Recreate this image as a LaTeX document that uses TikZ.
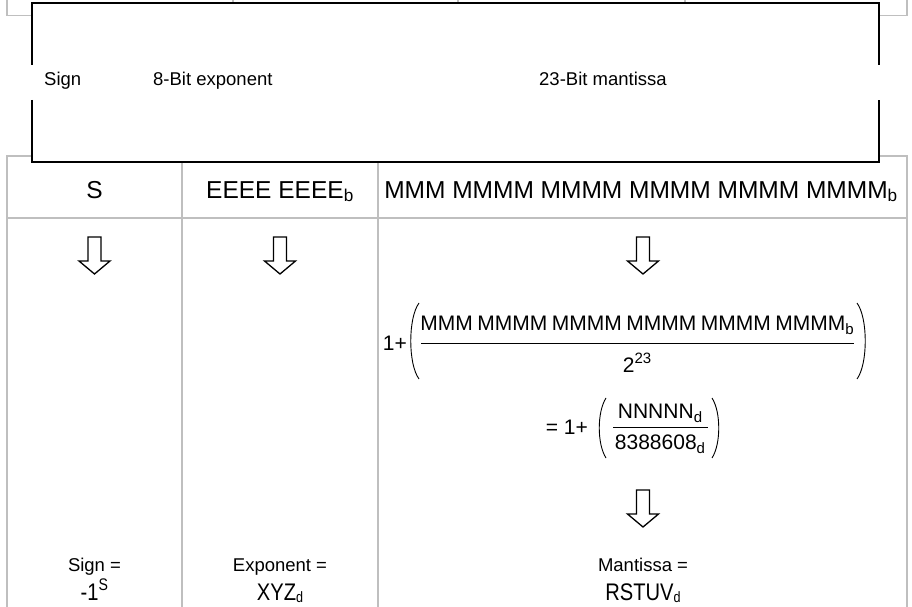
\documentclass[tikz,border=0pt]{standalone}
\usepackage{fontspec}
\setmainfont{Liberation Sans}
\definecolor{gridgray}{HTML}{BFBFBF}
\newcommand\tightspaces{\spaceskip=4.5pt\relax}
\newcommand\fsub[1]{\raisebox{-0.22em}{\fontsize{15}{15}\selectfont #1}}
\newcommand\fsup[1]{\raisebox{0.42em}{\fontsize{15}{15}\selectfont #1}}
\newcommand\vsub[1]{\raisebox{-0.12em}{\fontsize{15}{15}\selectfont #1}}
\tikzset{
  grid/.style={draw=gridgray, line width=1.6pt},
  frame/.style={draw=black, line width=2pt},
  fieldlabel/.style={font=\fontsize{18.5}{20}\selectfont, anchor=base west, inner sep=0pt},
  headtext/.style={font=\fontsize{24.5}{26}\selectfont, anchor=base, inner sep=0pt},
  fracpart/.style={font=\fontsize{21}{23}\selectfont, anchor=base, inner sep=0pt},
  smalltext/.style={font=\fontsize{18.5}{20}\selectfont, anchor=base, inner sep=0pt},
  valuetext/.style={font=\fontsize{24}{26}\selectfont, anchor=base, inner sep=0pt,
    xscale=0.84, transform shape},
  paren/.style={draw=black, line width=0.9pt},
  downarrow/.pic={
    \draw[line width=1.3pt, line join=miter, fill=white]
      (-6.5,0) -- (6.5,0) -- (6.5,24) -- (15.5,24) -- (0,37)
      -- (-15.5,24) -- (-6.5,24) -- cycle;
  }
}
\begin{document}
\begin{tikzpicture}[x=1pt,y=-1pt]
\useasboundingbox[fill=white] (0,0) rectangle (912,607);

% upper table (only its border shows around the field frame)
\draw[grid] (7,0) -- (7,15.5) -- (32,15.5);
\draw[grid] (907,0) -- (907,15.5) -- (879,15.5);
\foreach \cx in {233,458,685} \draw[grid] (\cx,0) -- (\cx,5);

% lower table grid
\draw[grid] (32,156) -- (7,156) -- (7,607);
\draw[grid] (879,156) -- (907,156) -- (907,607);
\draw[grid] (7,218) -- (907,218);
\draw[grid] (182,160) -- (182,607);
\draw[grid] (378,160) -- (378,607);

% field frame with gaps in its sides for the caption row
\fill[white] (32,3.5) rectangle (879,162);
\draw[frame] (32,65) -- (32,3.5) -- (879,3.5) -- (879,65);
\draw[frame] (32,100) -- (32,162) -- (879,162) -- (879,100);

\node[fieldlabel] (lsign) at (44,86) {Sign};
\node[fieldlabel] (lexp) at (153,86) {8-Bit exponent};
\node[fieldlabel] (lman) at (539,86) {23-Bit mantissa};

% header row
\node[headtext] (hs) at (94.5,198) {S};
\node[headtext] (he) at (280,198) {EEEE EEEE\textsubscript{b}};
\node[headtext] (hm) at (641,198) {MMM MMMM MMMM MMMM MMMM MMMM\textsubscript{b}};

% arrows
\pic at (94.5,237) {downarrow};
\pic at (280,237) {downarrow};
\pic at (643,237) {downarrow};
\pic at (643,490) {downarrow};

% mantissa formula
\node[fracpart, anchor=base east] (onep) at (407,350) {1+};
\node[fracpart] (num) at (637,330) {\tightspaces MMM MMMM MMMM MMMM MMMM MMMM\fsub{b}};
\node[fracpart] (den) at (637,372) {2\fsup{23}};
\draw[line width=1pt] (421,343) -- (854,343);
\draw[paren] (419,303) .. controls (408,318) and (408,364) .. (419,379);
\draw[paren] (857,303) .. controls (868,318) and (868,364) .. (857,379);

\node[fracpart, anchor=base east] (eqone) at (588,434) {= 1+};
\node[fracpart] (num2) at (660,418) {NNNNN\fsub{d}};
\node[fracpart] (den2) at (660,449) {8388608\fsub{d}};
\draw[line width=1pt] (613,427) -- (708,427);
\draw[paren] (606,398) .. controls (597,412) and (597,444) .. (606,458);
\draw[paren] (712,398) .. controls (721,412) and (721,444) .. (712,458);

% results
\node[smalltext] (rs) at (94.5,571) {Sign =};
\node[smalltext] (re) at (280,571) {Exponent =};
\node[smalltext] (rm) at (643,571) {Mantissa =};
\node[valuetext] (vs) at (94.5,600) {-1\textsuperscript{S}};
\node[valuetext] (ve) at (280,600) {XYZ\vsub{d}};
\node[valuetext] (vm) at (643,600) {RSTUV\vsub{d}};
\end{tikzpicture}
\end{document}
